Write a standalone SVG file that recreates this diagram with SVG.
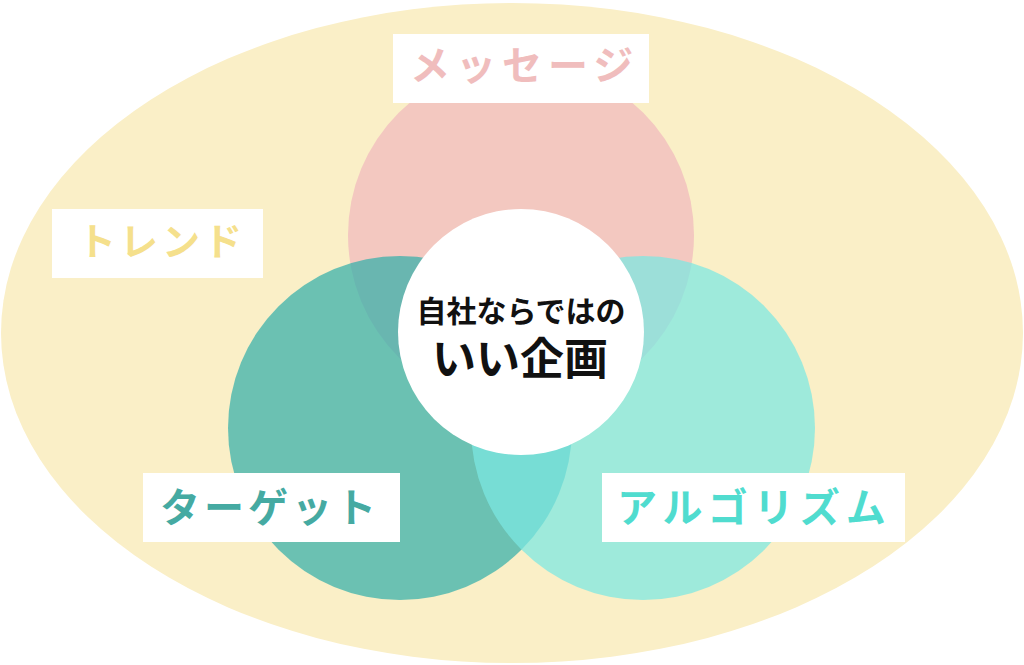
<svg xmlns="http://www.w3.org/2000/svg" width="1024" height="665" viewBox="0 0 1024 665">
<style>
.lbl{font-family:"Noto Sans CJK JP","Noto Sans",sans-serif;font-weight:700}
.box{fill:#ffffff}
</style>
<rect width="1024" height="665" fill="#ffffff"/>
<g id="trend-area">
<ellipse cx="512" cy="333" rx="511" ry="330" fill="#faefc7"/>
</g>
<g id="message-circle">
<circle cx="521" cy="235" r="173" fill="#f3c8c0"/>
</g>
<g id="target-circle">
<circle cx="400" cy="428" r="172" fill="#2eaeaa" opacity="0.7"/>
</g>
<g id="algorithm-circle">
<circle cx="643" cy="428" r="172" fill="#7ce8e2" opacity="0.73"/>
</g>
<g id="center">
<circle cx="521" cy="332" r="123" fill="#ffffff"/>
<text class="lbl" x="521" y="322" font-size="30" text-anchor="middle" fill="#111111">自社ならではの</text>
<text class="lbl" x="520" y="375" font-size="44" text-anchor="middle" fill="#111111">いい企画</text>
</g>
<g id="message-label">
<rect class="box" x="393" y="34" width="256" height="69"/>
<text class="lbl" x="410" y="80" font-size="40" letter-spacing="6" fill="#f0bdbd">メッセージ</text>
</g>
<g id="trend-label">
<rect class="box" x="52" y="209" width="211" height="69"/>
<text class="lbl" x="78" y="255" font-size="38" letter-spacing="4" fill="#f5e08c">トレンド</text>
</g>
<g id="target-label">
<rect class="box" x="143" y="473" width="257" height="69"/>
<text class="lbl" x="160" y="522" font-size="40" letter-spacing="4" fill="#45aaa2">ターゲット</text>
</g>
<g id="algorithm-label">
<rect class="box" x="602" y="473" width="303" height="69"/>
<text class="lbl" x="617" y="522" font-size="40" letter-spacing="6" fill="#50dccf">アルゴリズム</text>
</g>
<g id="connectors"></g>
</svg>
